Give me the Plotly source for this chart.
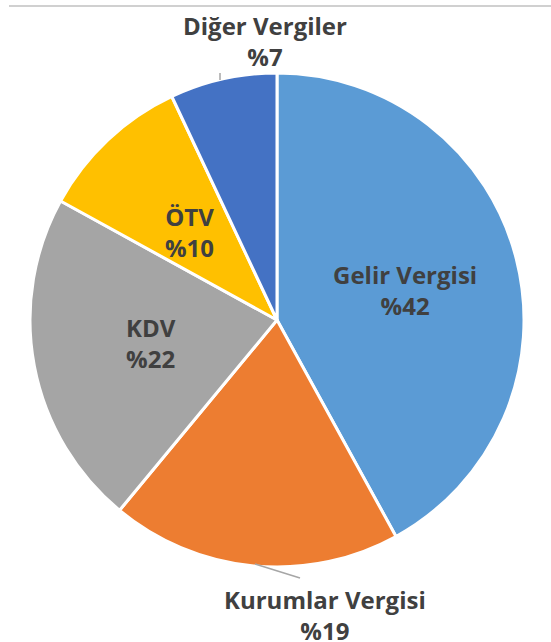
import plotly.graph_objects as go

labels = ["Gelir Vergisi", "Kurumlar Vergisi", "KDV", "ÖTV", "Diğer Vergiler"]
values = [42, 19, 22, 10, 7]
colors = ["#5B9BD5", "#ED7D31", "#A5A5A5", "#FFC000", "#4472C4"]
# label centres in pixels (x, y from top)
label_pos = [(405, 290), (325, 615), (151, 343), (189, 232), (265, 41)]

W, H = 551, 642
cx, cy, r = 277, 320, 247

fig = go.Figure(go.Pie(
    labels=labels,
    values=values,
    sort=False,
    direction="clockwise",
    rotation=0,
    marker=dict(colors=colors, line=dict(color="white", width=3)),
    textinfo="none",
    showlegend=False,
    hoverinfo="label+value",
    domain=dict(x=[(cx - r) / W, (cx + r) / W], y=[(H - cy - r) / H, (H - cy + r) / H]),
))

for lab, val, (px, py) in zip(labels, values, label_pos):
    fig.add_annotation(
        x=px / W, y=1 - py / H, xref="paper", yref="paper",
        text=f"{lab}<br>%{val}", showarrow=False,
        xanchor="center", yanchor="middle", align="center",
        font=dict(family="Open Sans", size=24, color="#404040", weight="bold"),
    )

# leader lines
fig.add_shape(type="line", xref="paper", yref="paper",
              x0=255 / W, y0=1 - 564 / H, x1=300 / W, y1=1 - 578 / H,
              line=dict(color="#A6A6A6", width=1.5))
fig.add_shape(type="line", xref="paper", yref="paper",
              x0=220 / W, y0=1 - 73 / H, x1=220 / W, y1=1 - 80 / H,
              line=dict(color="#A6A6A6", width=1.5))

# thin separator line at the top
fig.add_shape(type="line", xref="paper", yref="paper", x0=9 / W, x1=1, y0=1 - 6 / H, y1=1 - 6 / H,
              line=dict(color="#D0D0D0", width=2), layer="above")

fig.update_layout(
    width=W, height=H,
    margin=dict(l=0, r=0, t=0, b=0),
    paper_bgcolor="white",
    plot_bgcolor="white",
)
fig.write_html("out.html", config={"displayModeBar": False},
               post_script="document.body.style.margin='0px';window.scrollTo(0,0);")
